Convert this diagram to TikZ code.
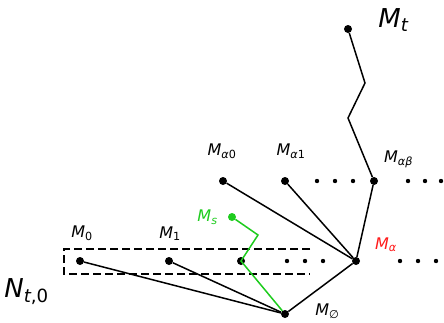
\documentclass[tikz,border=0pt]{standalone}
\usepackage{fontspec}
\setmainfont{DejaVu Sans}
\usetikzlibrary{positioning}
\definecolor{pathgreen}{HTML}{1ECC1E}
\definecolor{alphared}{HTML}{FF1A1A}

\begin{document}
\begin{tikzpicture}[x=1pt, y=-1pt,
  dot/.style={circle, fill, inner sep=0pt, minimum size=8pt},
  smalldot/.style={circle, fill, inner sep=0pt, minimum size=4.4pt},
  lbl/.style={inner sep=0pt, font=\fontsize{16}{19}\selectfont},
  biglbl/.style={inner sep=0pt, font=\fontsize{26}{30}\selectfont},
  edge/.style={line width=1.5pt}]
  \useasboundingbox (0,0) rectangle (444,322);
  % points of the tree
  \node[dot] (mt) at (348,29) {};
  \coordinate (z1) at (365,83);
  \coordinate (z2) at (348,118);
  \node[dot] (mab) at (374,181) {};
  \node[dot] (ma0) at (223,181) {};
  \node[dot] (ma1) at (285,181) {};
  \node[dot] (ma) at (356,261) {};
  \node[dot] (me) at (285,314) {};
  \node[dot] (m0) at (80,261) {};
  \node[dot] (m1) at (169,261) {};
  \node[dot] (m2) at (241,261) {};
  \node[dot, pathgreen] (ms) at (232,217) {};
  \coordinate (gbend) at (258,235);
  % ellipsis dots
  \foreach \x [count=\i] in {317,335,353} \node[smalldot] (ra-\i) at (\x,181) {};
  \foreach \x [count=\i] in {408,425,441} \node[smalldot] (rb-\i) at (\x,181) {};
  \foreach \x [count=\i] in {400,418,436} \node[smalldot] (rc-\i) at (\x,261) {};
  \foreach \x [count=\i] in {287,305,323} \node[smalldot] (rd-\i) at (\x,261) {};
  % dashed box round level 0
  \coordinate (box-ne) at (310,249);
  \coordinate (box-nw) at (64,249);
  \coordinate (box-sw) at (64,274);
  \coordinate (box-se) at (310,274);
  \draw[edge, dash pattern=on 8pt off 4pt] (box-ne) -- (box-nw) -- (box-sw) -- (box-se);
  % labels
  \node[biglbl, right=26pt of mt, yshift=9pt] (mt-l) {\textit{M}\textsubscript{\textit{t}}};
  \node[lbl, above right=10pt and 7pt of mab] (mab-l) {\textit{M}\textsubscript{\textit{αβ}}};
  \node[lbl, above=18pt of ma0, xshift=-1pt] (ma0-l) {\textit{M}\textsubscript{\textit{α}0}};
  \node[lbl, above=18pt of ma1, xshift=6pt] (ma1-l) {\textit{M}\textsubscript{\textit{α}1}};
  \node[lbl, alphared, above right=6pt and 16pt of ma] (ma-l) {\textit{M}\textsubscript{\textit{α}}};
  \node[lbl, right=26pt of me, yshift=3pt] (me-l) {\textit{M}\textsubscript{∅}};
  \node[lbl, pathgreen, left=10pt of ms] (ms-l) {\textit{M}\textsubscript{\textit{s}}};
  \node[lbl, above=16pt of m0, xshift=2pt] (m0-l) {\textit{M}\textsubscript{0}};
  \node[lbl, above=16pt of m1, xshift=1pt] (m1-l) {\textit{M}\textsubscript{1}};
  \node[biglbl, below left=4pt and 15pt of box-sw] (n-l) {\textit{N}\textsubscript{\textit{t},0}};
  % connectors
  \draw[edge] (mt) -- (z1) -- (z2) -- (mab);
  \draw[edge] (mab) -- (ma);
  \draw[edge] (ma0) -- (ma);
  \draw[edge] (ma1) -- (ma);
  \draw[edge] (ma) -- (me);
  \draw[edge] (m0) -- (me);
  \draw[edge] (m1) -- (me);
  \draw[edge, pathgreen] (ms) -- (gbend) -- (m2.center) -- (me);
\end{tikzpicture}
\end{document}
